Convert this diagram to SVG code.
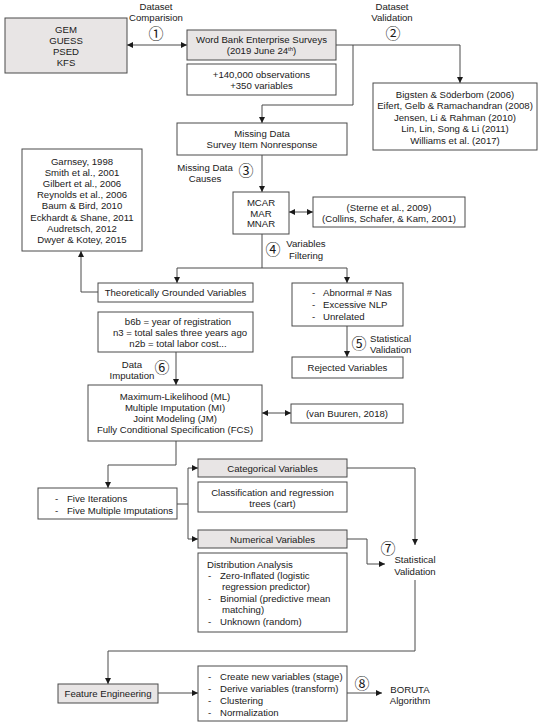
<svg xmlns="http://www.w3.org/2000/svg" width="550" height="726" viewBox="0 0 550 726">
<style>
rect{fill:#fff;stroke:#4a4a4a;stroke-width:1}
rect.g{fill:#e8e5e5}
text{font-family:"Liberation Sans",Arial,sans-serif;font-size:9.6px;fill:#1a1a1a}
.c{text-anchor:middle}
.n{font-family:"Noto Sans CJK JP","DejaVu Sans",sans-serif;font-size:15px;text-anchor:middle}
#connectors path{fill:none;stroke:#4a4a4a;stroke-width:1}
</style>
<defs>
<marker id="a" viewBox="0 0 10 10" refX="10" refY="5" markerWidth="6" markerHeight="6" orient="auto-start-reverse" markerUnits="userSpaceOnUse"><path d="M0,0 L10,5 L0,10 Z" fill="#1a1a1a"/></marker>
</defs>
<rect width="550" height="726" style="fill:#fff;stroke:none"/>
<g id="connectors">
<path d="M127,45 H187" marker-start="url(#a)" marker-end="url(#a)"/>
<path d="M336,45 H460 V83" marker-end="url(#a)"/>
<path d="M353,45 V105 H262 V123" marker-end="url(#a)"/>
<path d="M262,155 V192" marker-end="url(#a)"/>
<path d="M289,212 H313" marker-start="url(#a)" marker-end="url(#a)"/>
<path d="M262,234 V268 H177 V283" marker-end="url(#a)"/>
<path d="M262,268 H347 V283" marker-end="url(#a)"/>
<path d="M98,292 H81 V251" marker-end="url(#a)"/>
<path d="M347,326 V357" marker-end="url(#a)"/>
<path d="M176,352 V385" marker-end="url(#a)"/>
<path d="M262,413 H291" marker-start="url(#a)" marker-end="url(#a)"/>
<path d="M176,441 V465 H108 V488" marker-end="url(#a)"/>
<path d="M177,504 H188 V468 H198" marker-end="url(#a)"/>
<path d="M188,504 V539 H198" marker-end="url(#a)"/>
<path d="M347,468 H415 V545" marker-end="url(#a)"/>
<path d="M347,539 H367 V564 H385" marker-end="url(#a)"/>
<path d="M415,580 V651 H108 V684" marker-end="url(#a)"/>
<path d="M158,693 H198" marker-end="url(#a)"/>
<path d="M347,693 H382" marker-end="url(#a)"/>
</g>
<g id="labels">
<text class="c" x="156" y="9.5">Dataset</text>
<text class="c" x="156" y="20.5">Comparision</text>
<text class="n" x="156" y="38.5">①</text>
<text class="c" x="392" y="9.5">Dataset</text>
<text class="c" x="392" y="20.5">Validation</text>
<text class="n" x="393" y="38.5">②</text>
<text class="c" x="205" y="170.5">Missing Data</text>
<text class="c" x="205" y="181.5">Causes</text>
<text class="n" x="246" y="175.5">③</text>
<text class="n" x="273" y="254.5">④</text>
<text class="c" x="306" y="246.5">Variables</text>
<text class="c" x="306" y="258.5">Filtering</text>
<text class="n" x="359" y="348.5">⑤</text>
<text x="370" y="341.5">Statistical</text>
<text x="370" y="352.5">Validation</text>
<text class="c" x="132" y="367.5">Data</text>
<text class="c" x="132" y="378.5">Imputation</text>
<text class="n" x="162" y="372.5">⑥</text>
</g>
<g id="gem"><rect class="g" x="5" y="18" width="122" height="55"/>
<text class="c" x="66" y="32.5">GEM</text><text class="c" x="66" y="43.5">GUESS</text><text class="c" x="66" y="54.5">PSED</text><text class="c" x="66" y="65.5">KFS</text></g>
<g id="wbes"><rect class="g" x="187" y="30" width="149" height="30"/>
<text class="c" x="261.5" y="43">Word Bank Enterprise Surveys</text>
<text class="c" x="261.5" y="54">(2019 June 24<tspan font-size="6" dy="-3.5">th</tspan><tspan dy="3.5">)</tspan></text></g>
<g id="obs"><rect x="187" y="64" width="149" height="31"/>
<text class="c" x="261.5" y="77.5">+140,000 observations</text><text class="c" x="261.5" y="89">+350 variables</text></g>
<g id="validation-refs"><rect x="373" y="83" width="164" height="67"/>
<text class="c" x="455" y="97.5">Bigsten &amp; Söderbom (2006)</text>
<text class="c" x="455" y="109">Eifert, Gelb &amp; Ramachandran (2008)</text>
<text class="c" x="455" y="120.5">Jensen, Li &amp; Rahman (2010)</text>
<text class="c" x="455" y="132">Lin, Lin, Song &amp; Li (2011)</text>
<text class="c" x="455" y="143.5">Williams et al. (2017)</text></g>
<g id="missing"><rect x="177" y="123" width="170" height="32"/>
<text class="c" x="262" y="136.5">Missing Data</text><text class="c" x="262" y="147.5">Survey Item Nonresponse</text></g>
<g id="mcar"><rect x="233" y="192" width="56" height="42"/>
<text class="c" x="261" y="205.5">MCAR</text><text class="c" x="261" y="216.5">MAR</text><text class="c" x="261" y="227">MNAR</text></g>
<g id="sterne"><rect x="313" y="197" width="152" height="30"/>
<text class="c" x="389" y="210.5">(Sterne et al., 2009)</text><text class="c" x="389" y="221.5">(Collins, Schafer, &amp; Kam, 2001)</text></g>
<g id="garnsey"><rect x="22" y="149" width="120" height="102"/>
<text class="c" x="82" y="164.5">Garnsey, 1998</text>
<text class="c" x="82" y="175.7">Smith et al., 2001</text>
<text class="c" x="82" y="186.9">Gilbert et al., 2006</text>
<text class="c" x="82" y="198.1">Reynolds et al., 2006</text>
<text class="c" x="82" y="209.3">Baum &amp; Bird, 2010</text>
<text class="c" x="82" y="220.5">Eckhardt &amp; Shane, 2011</text>
<text class="c" x="82" y="231.7">Audretsch, 2012</text>
<text class="c" x="82" y="242.9">Dwyer &amp; Kotey, 2015</text></g>
<g id="theoretical"><rect x="98" y="283" width="155" height="19"/>
<text class="c" x="175.5" y="295.5">Theoretically Grounded Variables</text></g>
<g id="abnormal"><rect x="292" y="283" width="111" height="43"/>
<text x="312" y="295.5">-</text><text x="323" y="295.5">Abnormal # Nas</text>
<text x="312" y="307.5">-</text><text x="323" y="307.5">Excessive NLP</text>
<text x="312" y="319.5">-</text><text x="323" y="319.5">Unrelated</text></g>
<g id="rejected"><rect x="292" y="357" width="111" height="21"/>
<text class="c" x="347.5" y="371">Rejected Variables</text></g>
<g id="vars"><rect x="98" y="312" width="155" height="40"/>
<text class="c" x="178" y="324.5">b6b = year of registration</text>
<text class="c" x="180" y="335.5">n3 = total sales three years ago</text>
<text class="c" x="178" y="346.5">n2b = total labor cost...</text></g>
<g id="ml"><rect x="88" y="385" width="174" height="56"/>
<text class="c" x="175" y="399.5">Maximum-Likelihood (ML)</text>
<text class="c" x="175" y="410.5">Multiple Imputation (MI)</text>
<text class="c" x="175" y="421.5">Joint Modeling (JM)</text>
<text class="c" x="175" y="433">Fully Conditional Specification (FCS)</text></g>
<g id="vanbuuren"><rect x="291" y="404" width="112" height="19"/>
<text class="c" x="347" y="416.5">(van Buuren, 2018)</text></g>
<g id="five"><rect x="38" y="488" width="139" height="31"/>
<text x="55" y="501.5">-</text><text x="67" y="501.5">Five Iterations</text>
<text x="55" y="513.5">-</text><text x="67" y="513.5">Five Multiple Imputations</text></g>
<g id="categorical"><rect class="g" x="198" y="459" width="149" height="18"/>
<text class="c" x="272.5" y="471.5">Categorical Variables</text></g>
<g id="cart"><rect x="198" y="482" width="149" height="30"/>
<text class="c" x="272.5" y="495.5">Classification and regression</text><text class="c" x="272.5" y="506.5">trees (cart)</text></g>
<g id="numerical"><rect class="g" x="198" y="530" width="149" height="18"/>
<text class="c" x="272.5" y="542.5">Numerical Variables</text></g>
<g id="distribution"><rect x="198" y="553" width="149" height="79"/>
<text x="207" y="567.5">Distribution Analysis</text>
<text x="208" y="578.5">-</text><text x="220" y="578.5">Zero-Inflated (logistic</text>
<text x="222" y="589.5">regression predictor)</text>
<text x="208" y="601.5">-</text><text x="220" y="601.5">Binomial (predictive mean</text>
<text x="222" y="612.5">matching)</text>
<text x="208" y="624.5">-</text><text x="220" y="624.5">Unknown (random)</text></g>
<g id="statval">
<text class="n" x="388" y="553.5">⑦</text>
<text class="c" x="415" y="562.5">Statistical</text><text class="c" x="415" y="574.5">Validation</text></g>
<g id="feature"><rect class="g" x="58" y="684" width="100" height="19"/>
<text class="c" x="108" y="696.5">Feature Engineering</text></g>
<g id="create"><rect x="198" y="666" width="149" height="55"/>
<text x="208" y="679.5">-</text><text x="220" y="679.5">Create new variables (stage)</text>
<text x="208" y="691.5">-</text><text x="220" y="691.5">Derive variables (transform)</text>
<text x="208" y="703.5">-</text><text x="220" y="703.5">Clustering</text>
<text x="208" y="715.5">-</text><text x="220" y="715.5">Normalization</text></g>
<g id="boruta">
<text class="n" x="362" y="688.5">⑧</text>
<text class="c" x="410" y="692.5">BORUTA</text><text class="c" x="410" y="703.5">Algorithm</text></g>
</svg>
